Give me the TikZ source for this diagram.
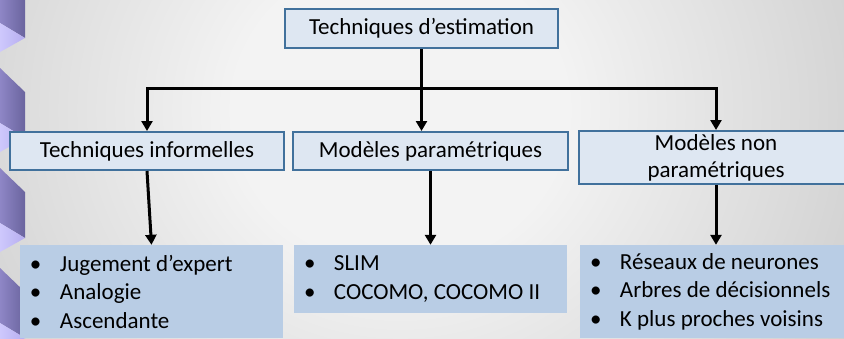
\documentclass[tikz,border=0pt]{standalone}
\usepackage{fontspec}
\setmainfont{Carlito}
\usetikzlibrary{arrows.meta,calc}
\definecolor{bgin}{HTML}{F3F3F3}
\definecolor{bgout}{HTML}{979797}
\definecolor{boxfill}{HTML}{DEE7F2}
\definecolor{boxline}{HTML}{41719C}
\definecolor{listfill}{HTML}{B9CDE5}
\definecolor{chvL}{RGB}{142,134,198}
\definecolor{chvR}{RGB}{106,100,158}
\definecolor{litL}{RGB}{206,200,252}
\definecolor{litR}{RGB}{182,174,240}
\pgfdeclareradialshading{bgrad}{\pgfpoint{0bp}{0bp}}{color(0bp)=(bgin); color(8bp)=(bgin); color(50bp)=(bgout); color(75bp)=(bgout)}
\tikzset{
  hbox/.style={draw=boxline, line width=2pt, fill=boxfill, inner sep=0pt, align=center,
    font=\fontsize{23}{27}\selectfont},
  lbox/.style={fill=listfill, inner sep=0pt, inner xsep=10pt, align=flush left, anchor=center,
    font=\fontsize{23}{28.5}\selectfont},
  conn/.style={line width=3pt, black},
  arr/.style={conn, -{Triangle[width=11pt,length=10pt]}},
}
\newcommand{\bul}[1]{\makebox[30pt][l]{\textbullet}#1}
\begin{document}
\begin{tikzpicture}[x=1pt,y=-1pt]
\useasboundingbox (0,0) rectangle (844,338);
\begin{scope}
\clip (0,0) rectangle (844,338);
\shade[shading=bgrad] (400-520,110-480) rectangle (400+520,110+480);
\foreach \k in {0,1,2,3}{
  \pgfmathsetmacro{\o}{100*\k}
  \shade[left color=chvL, right color=chvR] (0,\o-32) -- (25,\o-8) -- (25,\o+38) -- (0,\o+23) -- cycle;
  \shade[left color=litL, right color=litR] (0,\o+23) -- (25,\o+38) -- (0,\o+52) -- cycle;
}
% boxes
\node[hbox, minimum width=273pt, minimum height=39pt] (root) at (421.5,28.5) {Techniques d’estimation};
\node[hbox, minimum width=274pt, minimum height=38pt] (inf) at (147,151) {Techniques informelles};
\node[hbox, minimum width=275pt, minimum height=38pt] (par) at (430.5,151) {Modèles paramétriques};
\node[hbox, minimum width=274pt, minimum height=53pt] (nonp) at (716,157.5) {Modèles non\\paramétriques};
\node[lbox, minimum width=263pt, minimum height=93pt, text width=243pt] (l1) at (151.5,291.5)
  {\bul{Jugement d’expert}\\\bul{Analogie}\\\bul{Ascendante}};
\node[lbox, minimum width=273pt, minimum height=68pt, text width=253pt] (l2) at (430.5,279)
  {\bul{SLIM}\\\bul{COCOMO, COCOMO II}};
\node[lbox, minimum width=272pt, minimum height=93pt, text width=252pt] (l3) at (716,291.5)
  {\bul{Réseaux de neurones}\\\bul{Arbres de décisionnels}\\\bul{K plus proches voisins}};
% connectors
\coordinate (hub) at (root.south |- 0,88);
\draw[conn] (root.south) -- (hub);
\draw[arr] (hub) -| (inf.north);
\draw[arr] (hub) -- (hub |- par.north);
\draw[arr] (hub) -| (nonp.north);
\draw[arr] (inf.south) -- (l1.north);
\draw[arr] (par.south) -- (l2.north);
\draw[arr] (nonp.south) -- (l3.north);
\end{scope}
\end{tikzpicture}
\end{document}
